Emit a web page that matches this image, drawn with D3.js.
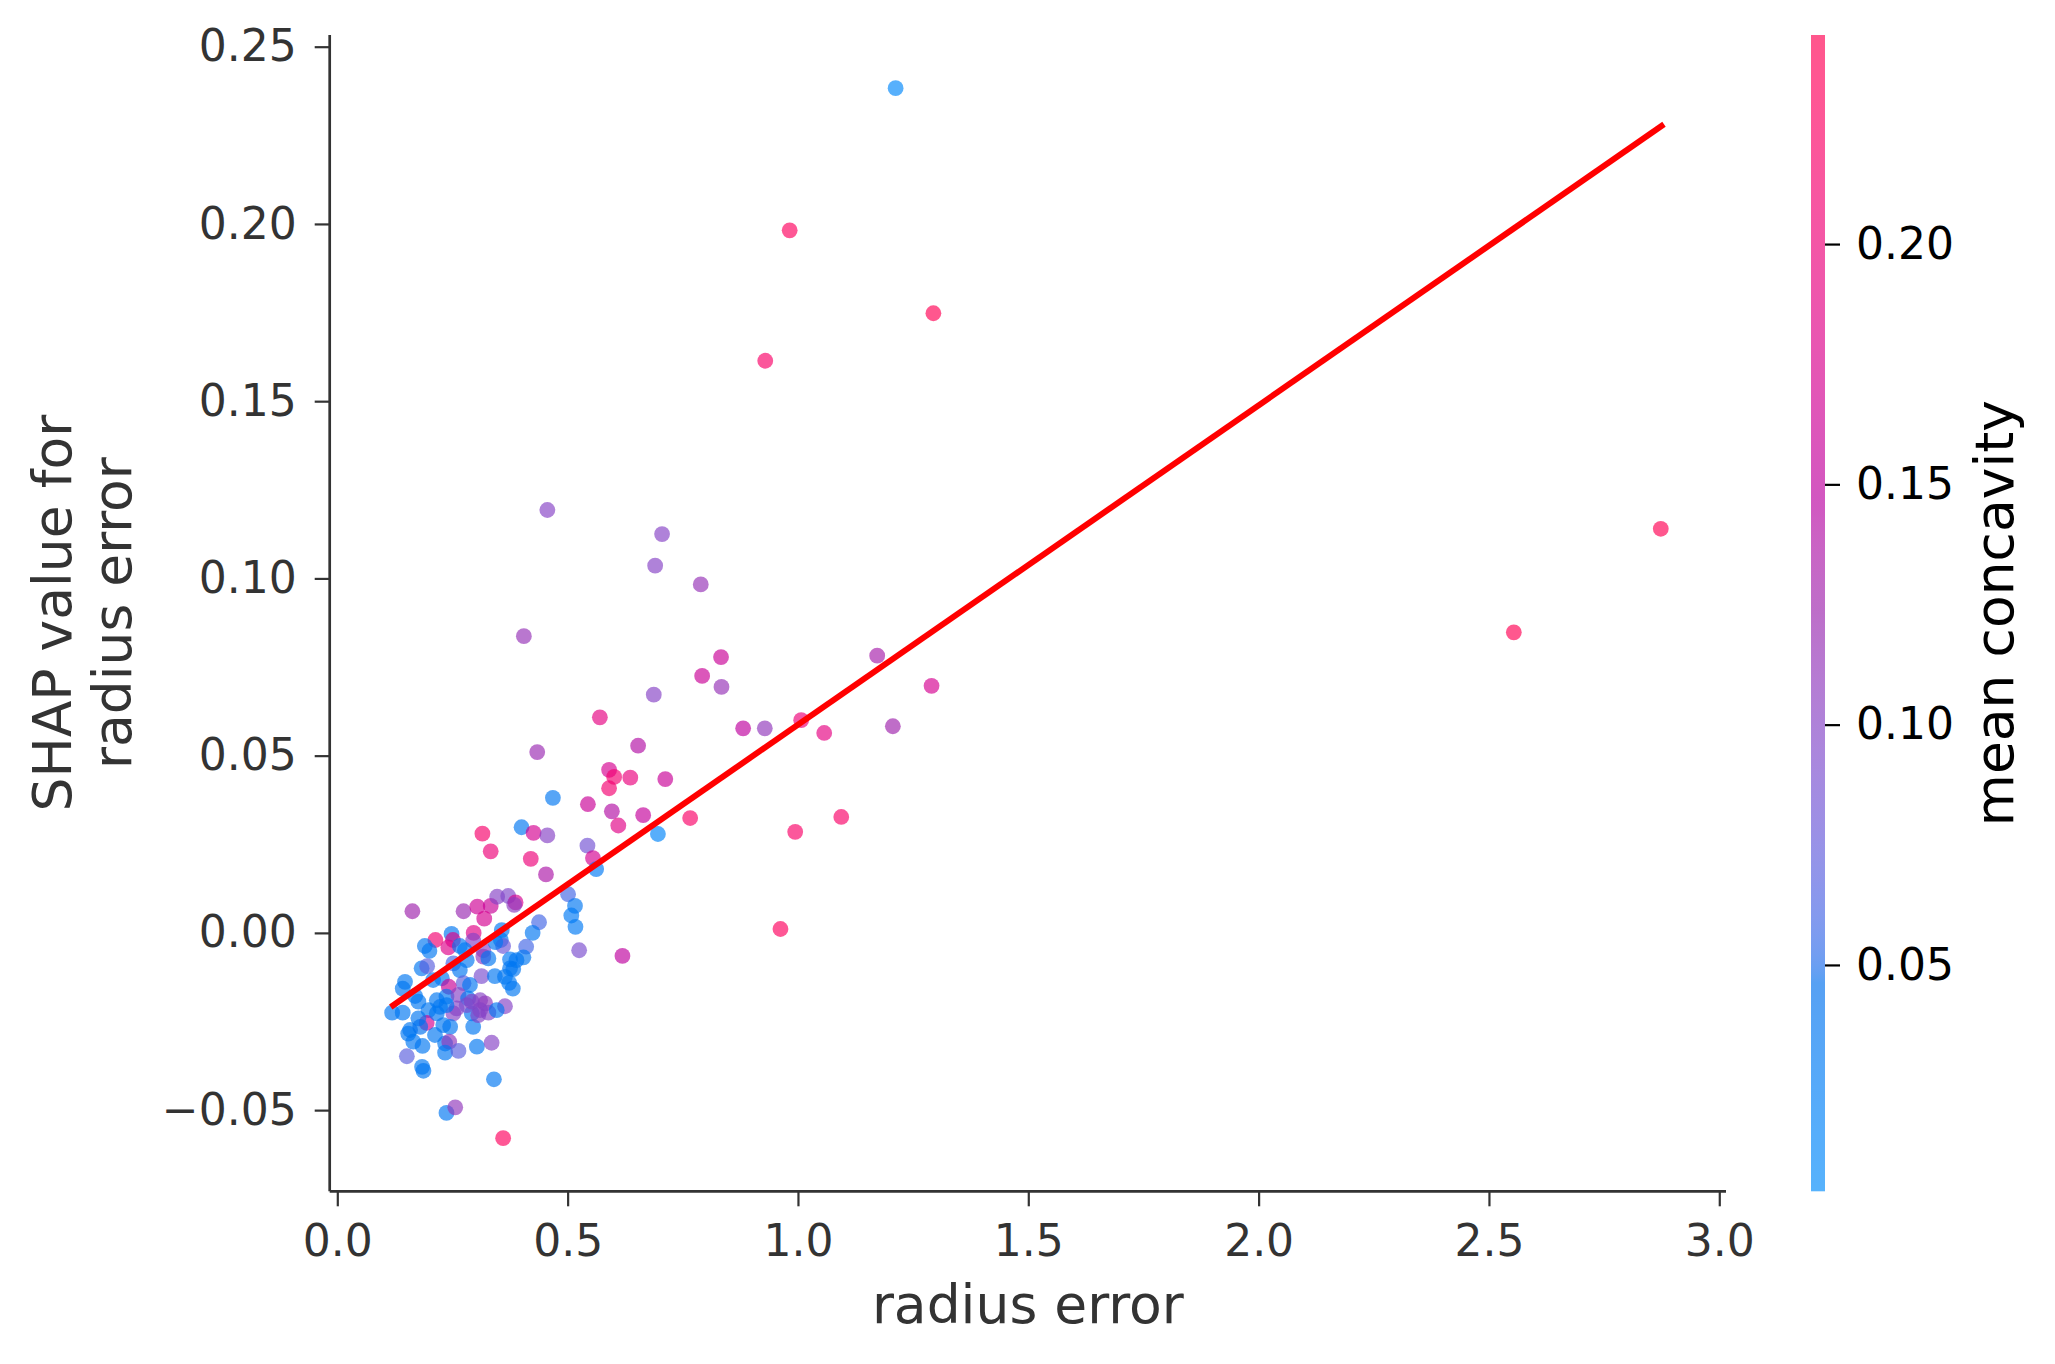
<!DOCTYPE html>
<html>
<head>
<meta charset="utf-8">
<script src="https://cdn.jsdelivr.net/npm/d3@7"></script>
<style>
  html, body { margin: 0; padding: 0; background: #ffffff; }
  svg { display: block; font-family: "DejaVu Sans", sans-serif; }
</style>
</head>
<body>
<svg id="chart" width="2055" height="1364"></svg>
<script>
// ---------------- DATA ----------------
// radius error (feature value)
const radiusError = [
  1.212, 0.982, 1.294, 0.929, 2.873, 2.554, 0.456, 0.705, 0.690, 0.789,
  0.405, 0.833, 1.172, 0.792, 0.834, 1.290, 0.687, 0.570, 0.881, 0.928,
  1.007, 1.057, 1.206, 0.434, 0.653, 0.590, 0.601, 0.636, 0.590, 0.712,
  0.468, 0.544, 0.596, 0.664, 0.766, 1.094, 0.610, 0.994, 0.400, 0.426,
  0.456, 0.315, 0.333, 0.420, 0.696, 0.543, 0.555, 0.562, 0.453, 0.962,
  0.501, 0.516, 0.508, 0.517, 0.438, 0.424, 0.274, 0.304, 0.333, 0.319,
  0.347, 0.371, 0.387, 0.384, 0.163, 0.525, 0.619, 0.213, 0.248, 0.251,
  0.241, 0.296, 0.295, 0.190, 0.200, 0.266, 0.277, 0.357, 0.355, 0.360,
  0.317, 0.317, 0.328, 0.375, 0.410, 0.404, 0.183, 0.195, 0.252, 0.281,
  0.266, 0.313, 0.342, 0.375, 0.382, 0.364, 0.373, 0.381, 0.147, 0.142,
  0.169, 0.208, 0.227, 0.274, 0.288, 0.242, 0.237, 0.216, 0.263, 0.284,
  0.310, 0.321, 0.364, 0.119, 0.142, 0.198, 0.223, 0.252, 0.194, 0.292,
  0.310, 0.176, 0.158, 0.154, 0.176, 0.180, 0.165, 0.185, 0.151, 0.184,
  0.187, 0.212, 0.230, 0.245, 0.259, 0.234, 0.243, 0.234, 0.263, 0.295,
  0.306, 0.303, 0.335, 0.328, 0.340, 0.237, 0.256, 0.360, 0.216, 0.237,
  0.281, 0.292, 0.343, 0.389, 0.346
];
// SHAP value for radius error
const shapValue = [
  0.2383, 0.1982, 0.1748, 0.1614, 0.1140, 0.0848, 0.1193, 0.1125, 0.1036, 0.0983,
  0.0837, 0.0778, 0.0782, 0.0725, 0.0694, 0.0697, 0.0672, 0.0608, 0.0577, 0.0577,
  0.0600, 0.0564, 0.0583, 0.0510, 0.0528, 0.0460, 0.0440, 0.0438, 0.0408, 0.0434,
  0.0381, 0.0363, 0.0343, 0.0332, 0.0324, 0.0327, 0.0303, 0.0285, 0.0298, 0.0282,
  0.0275, 0.0280, 0.0230, 0.0209, 0.0279, 0.0246, 0.0211, 0.0180, 0.0165, 0.0011,
  0.0109, 0.0076, 0.0049, 0.0017, 0.0030, 0.0000, 0.0061, 0.0074, 0.0076, 0.0040,
  0.0102, 0.0104, 0.0086, 0.0079, 0.0061, -0.0049, -0.0065, -0.0020, -0.0003, -0.0020,
  -0.0041, 0.0000, -0.0022, -0.0037, -0.0051, -0.0037, -0.0049, 0.0008, -0.0020, -0.0037,
  -0.0049, -0.0067, -0.0072, -0.0075, -0.0039, -0.0069, -0.0100, -0.0094, -0.0086, -0.0077,
  -0.0105, -0.0122, -0.0122, -0.0100, -0.0102, -0.0124, -0.0141, -0.0157, -0.0138, -0.0157,
  -0.0178, -0.0133, -0.0128, -0.0142, -0.0147, -0.0152, -0.0180, -0.0190, -0.0175, -0.0185,
  -0.0190, -0.0199, -0.0207, -0.0225, -0.0225, -0.0218, -0.0209, -0.0227, -0.0254, -0.0227,
  -0.0218, -0.0194, -0.0274, -0.0284, -0.0241, -0.0265, -0.0307, -0.0319, -0.0348, -0.0378,
  -0.0389, -0.0288, -0.0260, -0.0265, -0.0213, -0.0312, -0.0307, -0.0338, -0.0333, -0.0265,
  -0.0232, -0.0321, -0.0310, -0.0225, -0.0413, -0.0508, -0.0492, -0.0579, -0.0227, -0.0204,
  -0.0204, -0.0194, -0.0026, -0.0077, -0.0218
];
// mean concavity (colour)
const meanConcavity = [
  0.010, 0.230, 0.240, 0.220, 0.240, 0.240, 0.100, 0.100, 0.100, 0.115,
  0.115, 0.160, 0.130, 0.160, 0.115, 0.170, 0.100, 0.190, 0.150, 0.110,
  0.200, 0.190, 0.125, 0.120, 0.140, 0.170, 0.210, 0.195, 0.210, 0.160,
  0.035, 0.160, 0.140, 0.155, 0.220, 0.220, 0.185, 0.220, 0.035, 0.170,
  0.100, 0.215, 0.200, 0.200, 0.015, 0.085, 0.170, 0.030, 0.135, 0.230,
  0.060, 0.035, 0.030, 0.030, 0.060, 0.035, 0.120, 0.165, 0.160, 0.170,
  0.100, 0.095, 0.170, 0.105, 0.125, 0.090, 0.150, 0.210, 0.035, 0.180,
  0.180, 0.185, 0.100, 0.035, 0.035, 0.035, 0.030, 0.035, 0.035, 0.080,
  0.100, 0.110, 0.035, 0.030, 0.060, 0.035, 0.035, 0.070, 0.060, 0.035,
  0.035, 0.090, 0.035, 0.035, 0.035, 0.035, 0.030, 0.035, 0.035, 0.035,
  0.035, 0.035, 0.035, 0.070, 0.035, 0.160, 0.035, 0.035, 0.100, 0.035,
  0.100, 0.110, 0.100, 0.035, 0.035, 0.035, 0.035, 0.100, 0.170, 0.035,
  0.100, 0.035, 0.035, 0.035, 0.035, 0.045, 0.035, 0.035, 0.070, 0.035,
  0.035, 0.035, 0.035, 0.035, 0.100, 0.035, 0.110, 0.035, 0.070, 0.035,
  0.100, 0.035, 0.100, 0.100, 0.035, 0.035, 0.110, 0.230, 0.035, 0.035,
  0.090, 0.100, 0.035, 0.035, 0.035
];
// fitted trend line end points
const trendX = [0.116, 2.880];
const trendY = [-0.0209, 0.2281];

const xTicks = [0.0, 0.5, 1.0, 1.5, 2.0, 2.5, 3.0];
const yTicks = [-0.05, 0.00, 0.05, 0.10, 0.15, 0.20, 0.25];
const cTicks = [0.05, 0.10, 0.15, 0.20];
const xDomain = [-0.0165, 3.0146];
const yDomain = [-0.0729, 0.2533];
const cDomain = [0.0029, 0.2435];

const xLabel = "radius error";
const yLabelLines = ["SHAP value for", "radius error"];
const cLabel = "mean concavity";

// ---------------- LAYOUT ----------------
const plot = { left: 329.7, right: 1726, top: 35, bottom: 1191.3 };
const cbar = { left: 1811, width: 14 };
const TEXT = "#333333";
const ALPHA = 0.66;

const svg = d3.select("#chart");
svg.append("rect").attr("width", 2055).attr("height", 1364).attr("fill", "#fff");

const x = d3.scaleLinear().domain(xDomain).range([plot.left, plot.right]);
const y = d3.scaleLinear().domain(yDomain).range([plot.bottom, plot.top]);
const cScale = d3.scaleLinear().domain(cDomain).range([plot.bottom, plot.top]);

// SHAP red_blue colormap: LCH path converted Lab(D65) -> sRGB with clipping
function lab2rgb(L, a, b) {
  let fy = (L + 16) / 116, fx = a / 500 + fy, fz = fy - b / 200;
  if (fz < 0) fz = 0;
  const f = v => v > 0.2068966 ? v * v * v : (v - 16 / 116) / 7.787;
  const X = f(fx) * 0.95047, Y = f(fy) * 1.0, Z = f(fz) * 1.08883;
  let r = 3.24048134 * X - 1.53715152 * Y - 0.49853633 * Z;
  let g = -0.96925495 * X + 1.87599 * Y + 0.04155593 * Z;
  let bb = 0.05564664 * X - 0.20404134 * Y + 1.05731107 * Z;
  const gam = c => c > 0.0031308 ? 1.055 * Math.pow(c, 1 / 2.4) - 0.055 : 12.92 * c;
  const cl = v => Math.max(0, Math.min(1, v));
  return [cl(gam(r)), cl(gam(g)), cl(gam(bb))];
}
function redBlue(t) {
  t = Math.max(0, Math.min(1, t));
  const L = t < 0.5 ? 54 + (40 - 54) * (t / 0.5) : 40 + (54 - 40) * ((t - 0.5) / 0.5);
  const C = 70 + 20 * t;
  const H = 4.6588 + ((0.35470565 + 2 * Math.PI) - 4.6588) * t;
  const rgb = lab2rgb(L, C * Math.cos(H), C * Math.sin(H));
  return d3.rgb(rgb[0] * 255, rgb[1] * 255, rgb[2] * 255).formatHex();
}
const colorOf = v => redBlue((v - cDomain[0]) / (cDomain[1] - cDomain[0]));

// ---------------- POINTS ----------------
const pts = radiusError.map((v, i) => ({ x: v, y: shapValue[i], c: meanConcavity[i] }));
svg.append("g").selectAll("circle").data(pts).join("circle")
  .attr("cx", d => x(d.x)).attr("cy", d => y(d.y)).attr("r", 7.9)
  .attr("fill", d => colorOf(d.c)).attr("fill-opacity", ALPHA);

// ---------------- TREND LINE ----------------
svg.append("path")
  .datum(trendX.map((v, i) => [v, trendY[i]]))
  .attr("d", d3.line().x(d => x(d[0])).y(d => y(d[1])))
  .attr("stroke", "#ff0000").attr("stroke-width", 6).attr("fill", "none");

// ---------------- AXES ----------------
const xAxis = svg.append("g").attr("transform", `translate(0,${plot.bottom})`)
  .call(d3.axisBottom(x).tickValues(xTicks).tickFormat(d3.format(".1f")).tickSizeOuter(0).tickSize(15).tickPadding(18));
const yAxis = svg.append("g").attr("transform", `translate(${plot.left},0)`)
  .call(d3.axisLeft(y).tickValues(yTicks).tickFormat(d => d3.format(".2f")(d).replace("-", "\u2212")).tickSizeOuter(0).tickSize(15).tickPadding(18));

[xAxis, yAxis].forEach(g => {
  g.select(".domain").attr("stroke", TEXT).attr("stroke-width", 2.7);
  g.selectAll(".tick line").attr("stroke", TEXT).attr("stroke-width", 2.2);
  g.selectAll(".tick text").attr("fill", TEXT).attr("font-size", 44)
    .attr("font-family", "DejaVu Sans, sans-serif");
});
xAxis.select(".domain").attr("d", `M${plot.left},0H${plot.right}`);
yAxis.select(".domain").attr("d", `M0,${plot.top}V${plot.bottom}`);

// axis labels
svg.append("text").attr("x", (plot.left + plot.right) / 2).attr("y", 1323)
  .attr("text-anchor", "middle").attr("fill", TEXT).attr("font-size", 53.5).text(xLabel);
yLabelLines.forEach((line, i) => {
  svg.append("text")
    .attr("transform", `translate(${71 + i * 60},${(plot.top + plot.bottom) / 2}) rotate(-90)`)
    .attr("text-anchor", "middle").attr("fill", TEXT).attr("font-size", 53.5).text(line);
});

// ---------------- COLORBAR ----------------
const grad = svg.append("defs").append("linearGradient").attr("id", "cgrad")
  .attr("x1", 0).attr("y1", 1).attr("x2", 0).attr("y2", 0);
d3.range(0, 101).forEach(i => {
  grad.append("stop").attr("offset", i / 100).attr("stop-color", redBlue(i / 100));
});
svg.append("rect").attr("x", cbar.left).attr("y", plot.top)
  .attr("width", cbar.width).attr("height", plot.bottom - plot.top)
  .attr("fill", "url(#cgrad)").attr("fill-opacity", ALPHA);

const cAxis = svg.append("g").attr("transform", `translate(${cbar.left + cbar.width},0)`)
  .call(d3.axisRight(cScale).tickValues(cTicks).tickFormat(d3.format(".2f")).tickSizeOuter(0).tickSize(15).tickPadding(16));
cAxis.select(".domain").remove();
cAxis.selectAll(".tick line").attr("stroke", "#000").attr("stroke-width", 2.2);
cAxis.selectAll(".tick text").attr("fill", "#000").attr("font-size", 44)
  .attr("font-family", "DejaVu Sans, sans-serif");

svg.append("text")
  .attr("transform", `translate(2013,${(plot.top + plot.bottom) / 2}) rotate(-90)`)
  .attr("text-anchor", "middle").attr("fill", "#000").attr("font-size", 53.5).text(cLabel);
</script>
</body>
</html>
